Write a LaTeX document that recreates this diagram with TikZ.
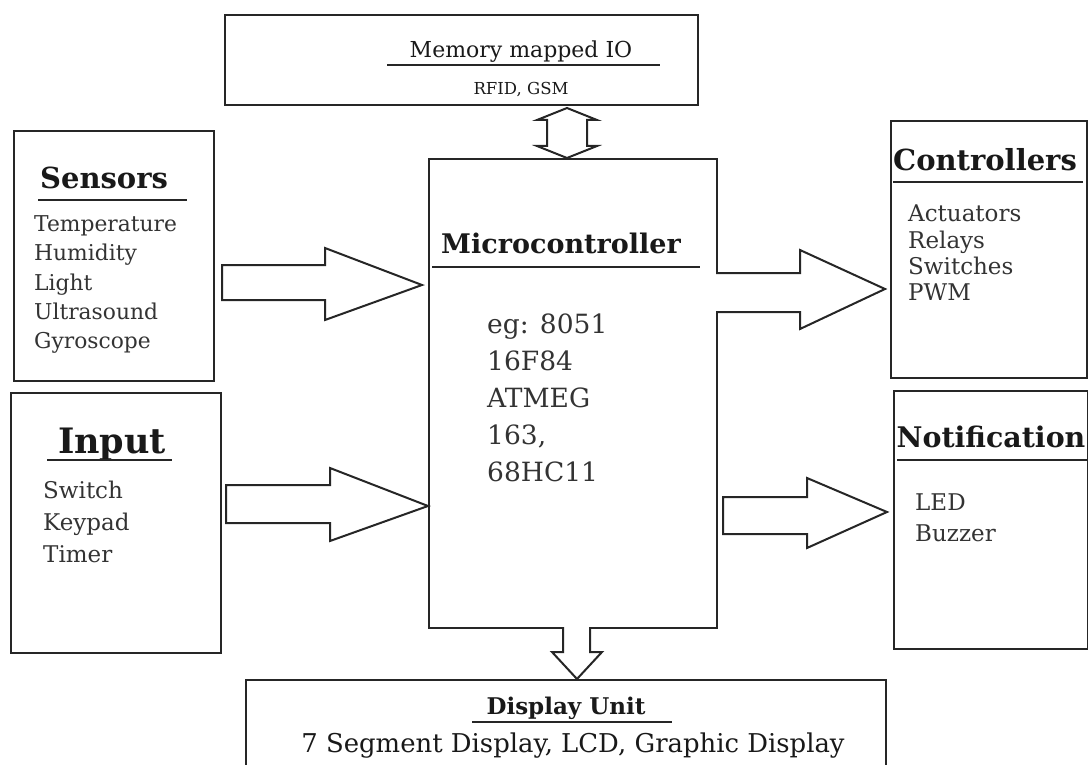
\documentclass[tikz,border=0pt]{standalone}
\usepackage{fontspec}
\setmainfont{DejaVu Serif}
\begin{document}
\begin{tikzpicture}[x=1pt,y=-1pt,
  box/.style={draw=black!85, line width=2.2pt, inner sep=0pt},
  blk/.style={draw=black!85, line width=2pt, line join=miter, fill=white},
  uline/.style={draw=black!85, line width=2.6pt},
  ttl/.style={inner sep=0pt, anchor=base, text=black!90},
  itm/.style={inner sep=0pt, anchor=base west, text=black!80}]
\useasboundingbox (0,0) rectangle (1088,765);
\clip (0,0) rectangle (1088,765);
% boxes
\node[box, anchor=north west, minimum width=473pt, minimum height=90pt] (mem) at (224,14) {};
\node[box, anchor=north west, minimum width=200pt, minimum height=250pt] (sens) at (13,130) {};
\node[box, anchor=north west, minimum width=210pt, minimum height=260pt] (inp) at (10,392) {};
\node[box, anchor=north west, minimum width=288pt, minimum height=469pt] (mc) at (428,158) {};
\node[box, anchor=north west, minimum width=196pt, minimum height=257pt] (ctrl) at (890,120) {};
\node[box, anchor=north west, minimum width=194pt, minimum height=258pt] (notif) at (893,390) {};
\node[box, anchor=north west, minimum width=640pt, minimum height=110pt] (disp) at (245,679) {};
% memory mapped IO
\node[ttl, font=\fontsize{22}{26}\selectfont] (memt) at (521,58) {Memory mapped IO};
\draw[uline] (387,65) -- (660,65);
\node[ttl, font=\fontsize{16.5}{20}\selectfont] (memb) at (521,95) {RFID, GSM};
% sensors
\node[ttl, font=\bfseries\fontsize{29}{34}\selectfont] (senst) at (104,189) {Sensors};
\draw[uline] (38,200) -- (187,200);
\foreach \t [count=\i] in {Temperature,Humidity,Light,Ultrasound,Gyroscope}
  \node[itm, font=\fontsize{21.8}{26}\selectfont] (sens\i) at (34,{232+29*(\i-1)}) {\t};
% input
\node[ttl, font=\bfseries\fontsize{35}{40}\selectfont] (inpt) at (112,453) {Input};
\draw[uline] (47,460) -- (172,460);
\foreach \t [count=\i] in {Switch,Keypad,Timer}
  \node[itm, font=\fontsize{23}{27}\selectfont] (inp\i) at (43,{498+32*(\i-1)}) {\t};
% microcontroller
\node[ttl, font=\bfseries\fontsize{27}{32}\selectfont] (mct) at (561,254) {Microcontroller};
\draw[uline] (432,267) -- (700,267);
\foreach \t [count=\i] in {eg: 8051,16F84,ATMEG,{163,},68HC11}
  \node[itm, font=\fontsize{26.5}{31}\selectfont] (mc\i) at (487,{333+37*(\i-1)}) {\t};
% controllers
\node[ttl, font=\bfseries\fontsize{29}{34}\selectfont] (ctrlt) at (985,171) {Controllers};
\draw[uline] (893,182) -- (1083,182);
\foreach \t [count=\i] in {Actuators,Relays,Switches,PWM}
  \node[itm, font=\fontsize{23}{27}\selectfont] (ctrl\i) at (908,{222+26*(\i-1)}) {\t};
% notification
\node[ttl, font=\bfseries\fontsize{28.4}{33}\selectfont] (notift) at (991,447) {Notification};
\draw[uline] (897,460) -- (1088,460);
\foreach \t [count=\i] in {LED,Buzzer}
  \node[itm, font=\fontsize{23}{27}\selectfont] (notif\i) at (915,{510+31*(\i-1)}) {\t};
% display
\node[ttl, font=\bfseries\fontsize{23}{27}\selectfont] (dispt) at (566,714) {Display Unit};
\draw[uline] (472,722) -- (672,722);
\node[ttl, font=\fontsize{25.9}{30}\selectfont] (dispb) at (573,752) {7 Segment Display, LCD, Graphic Display};
% block arrows
\draw[blk] (222,265) -- (325,265) -- (325,248) -- (422,285) -- (325,320) -- (325,300) -- (222,300) -- cycle;
\draw[blk] (226,485) -- (330,485) -- (330,468) -- (428,506) -- (330,541) -- (330,523) -- (226,523) -- cycle;
\draw[blk] (716,273) -- (800,273) -- (800,250) -- (885,289) -- (800,329) -- (800,312) -- (716,312);
\draw[blk] (723,497) -- (807,497) -- (807,478) -- (887,512) -- (807,548) -- (807,534) -- (723,534) -- cycle;
\draw[blk] (567,108) -- (597,120) -- (587,120) -- (587,146) -- (597,146) -- (567,158) -- (537,146) -- (547,146) -- (547,120) -- (537,120) -- cycle;
\draw[blk] (563,627) -- (563,652) -- (552,652) -- (577,679) -- (602,652) -- (590,652) -- (590,627);
\end{tikzpicture}
\end{document}
